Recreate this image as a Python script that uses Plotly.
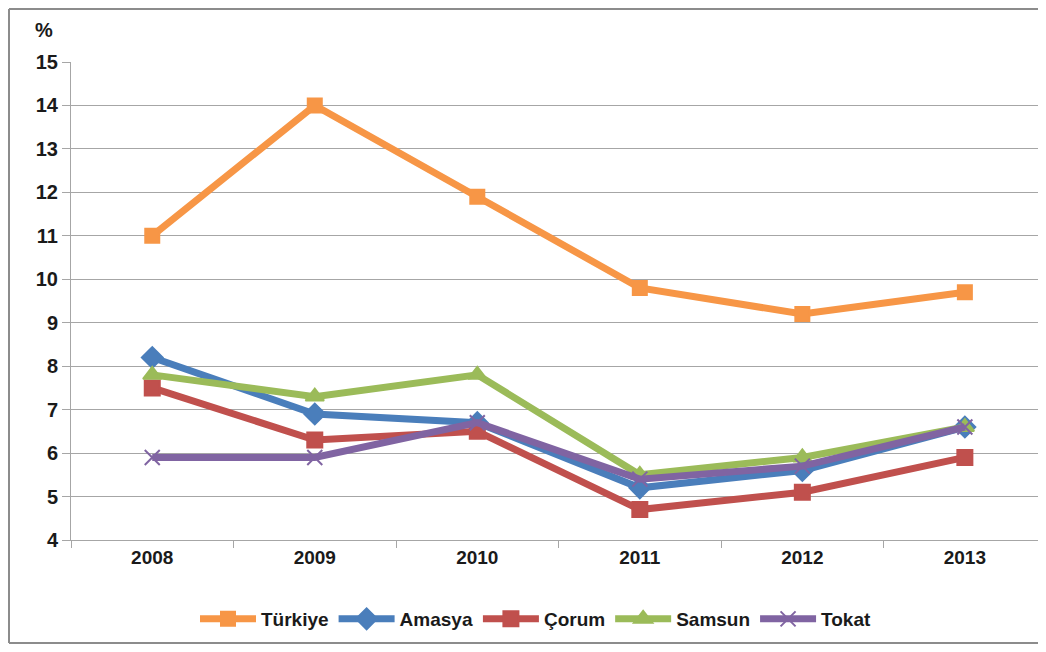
import plotly.graph_objects as go

years = ["2008", "2009", "2010", "2011", "2012", "2013"]
turkiye = [11.0, 14.0, 11.9, 9.8, 9.2, 9.7]
amasya = [8.2, 6.9, 6.7, 5.2, 5.6, 6.6]
corum = [7.5, 6.3, 6.5, 4.7, 5.1, 5.9]
samsun = [7.8, 7.3, 7.8, 5.5, 5.9, 6.6]
tokat = [5.9, 5.9, 6.7, 5.4, 5.7, 6.6]
y_ticks = [4, 5, 6, 7, 8, 9, 10, 11, 12, 13, 14, 15]

series = [
    ("Türkiye", turkiye, "#F79646", "square", 14),
    ("Amasya", amasya, "#4A7EBB", "diamond", 16),
    ("Çorum", corum, "#C0504D", "square", 15),
    ("Samsun", samsun, "#9BBB59", "triangle-up", 16),
    ("Tokat", tokat, "#8064A2", "x-thin", 15),
]

fig = go.Figure()
for name, vals, color, sym, size in series:
    fig.add_trace(go.Scatter(
        x=years, y=vals, name=name, mode="lines+markers",
        line=dict(color=color, width=7),
        marker=dict(symbol=sym, size=size, color=color,
                    line=dict(color=color, width=2)),
    ))

# page body has an 8px margin: figure sized to fit the 1046x652 window
W, H = 1030, 636
L, T = 63, 54
PH = 478
PW = W - L
B = H - T - PH
font_family = "Liberation Sans, Arial, sans-serif"

def px_x(px):
    return (px - L) / PW

def px_y(py):
    return (T + PH - py) / PH

border = dict(color="#8C8C8C", width=2)
fig.update_layout(
    width=W, height=H,
    margin=dict(l=L, r=0, t=T, b=B),
    plot_bgcolor="white", paper_bgcolor="white",
    font=dict(family=font_family, size=19, color="#1a1a1a"),
    showlegend=True,
    legend=dict(orientation="h", x=px_x(528), xanchor="center",
                y=px_y(611), yanchor="middle",
                font=dict(size=19, family=font_family, weight="bold"),
                itemwidth=56, tracegroupgap=0, traceorder="normal"),
    xaxis=dict(
        type="category", range=[-0.5, 5.45], showgrid=False,
        showline=True, linecolor="#A6A6A6", linewidth=1,
        ticks="outside", ticklen=7, tickcolor="#A6A6A6",
        tickson="boundaries",
        tickfont=dict(size=19, weight="bold"),
        fixedrange=True,
    ),
    yaxis=dict(
        range=[4, 15], tickvals=y_ticks, showgrid=True, gridcolor="#A6A6A6", gridwidth=1,
        showline=True, linecolor="#A6A6A6", linewidth=1,
        ticks="outside", ticklen=8, tickcolor="#A6A6A6",
        tickfont=dict(size=20, weight="bold"), zeroline=False,
    ),
    annotations=[dict(text="<b>%</b>", xref="paper", yref="paper",
                      x=px_x(36), y=px_y(22), showarrow=False,
                      font=dict(size=20), xanchor="center", yanchor="middle")],
    shapes=[
        dict(type="line", xref="paper", yref="paper", x0=px_x(1), x1=px_x(1),
             y0=px_y(1), y1=px_y(H - 1), line=border, layer="below"),
        dict(type="line", xref="paper", yref="paper", x0=px_x(1), x1=px_x(W),
             y0=px_y(1), y1=px_y(1), line=border, layer="below"),
        dict(type="line", xref="paper", yref="paper", x0=px_x(1), x1=px_x(W),
             y0=px_y(H - 1), y1=px_y(H - 1), line=border, layer="below"),
    ],
)

fig.write_html("out.html")
